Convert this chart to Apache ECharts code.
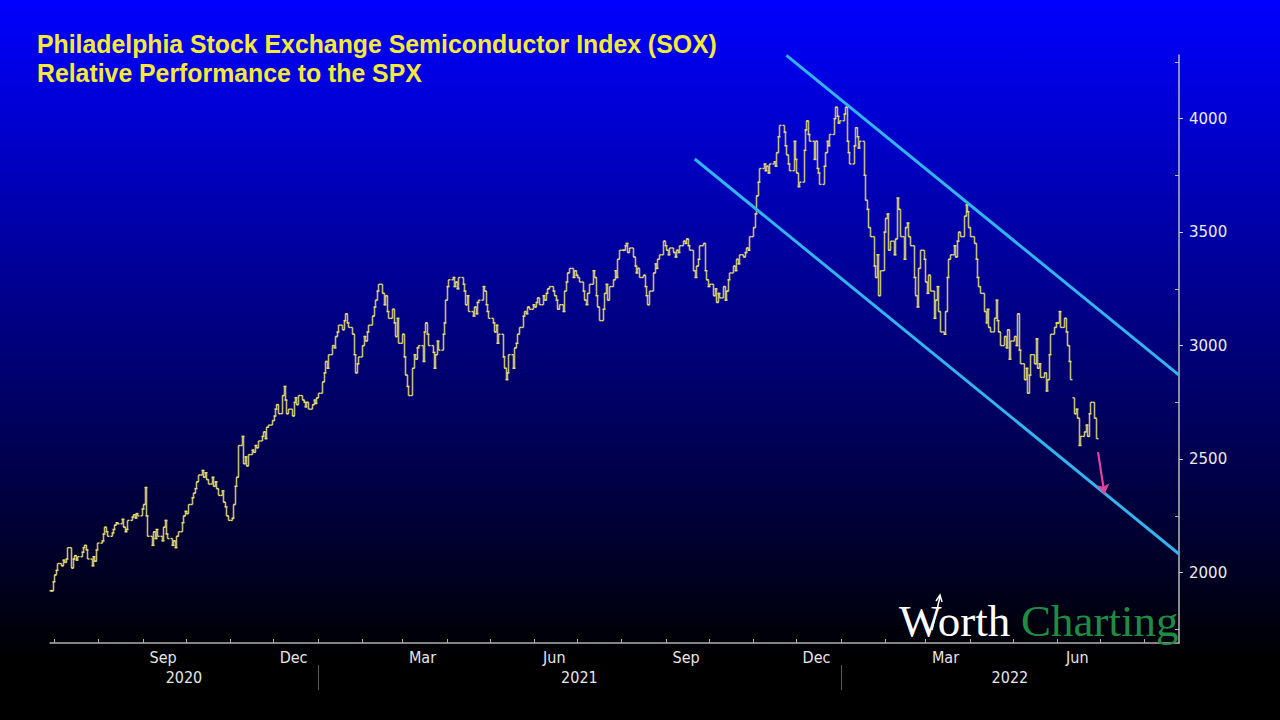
<!DOCTYPE html>
<html><head><meta charset="utf-8">
<script src="https://cdn.jsdelivr.net/npm/echarts@6/dist/echarts.min.js"></script>
<style>
html,body{margin:0;padding:0;background:#000;}
#c{width:1280px;height:720px;background:linear-gradient(to bottom,#0000ff 0%,#000000 92%);}
</style></head><body><div id="c"></div>
<script>
// ---------- data (daily closes, one value per weekday) ----------
const seriesStarts = ['2020-06-29', '2021-01-01', '2022-01-03'];
const closes2020 = [
  1920, 1960,
  1990, 2010, 2040, 2030, 2055, 2045, 2060, 2110, 2020, 2060, 2075, 2055, 2070, 2090, 2110, 2120, 2100, 2060, 2030, 2070, 2050, 2100, 2130,
  2140, 2170, 2200, 2180, 2160, 2175, 2190, 2210, 2220, 2215, 2235, 2200, 2180, 2190, 2230, 2245, 2255, 2240, 2260, 2250, 2280,
  2300, 2375, 2250, 2160, 2120, 2180, 2150, 2190, 2160, 2140, 2200, 2230, 2170, 2150, 2120, 2140, 2110, 2160, 2180, 2220, 2250, 2270,
  2260, 2300, 2330, 2350, 2370, 2400, 2430, 2450, 2420, 2440, 2410, 2390, 2420, 2380, 2400, 2370, 2340, 2360, 2310, 2290, 2250, 2230,
  2240, 2300, 2380, 2420, 2560, 2600, 2480, 2510, 2470, 2520, 2540, 2530, 2560, 2550, 2580, 2600, 2620, 2590, 2640, 2650, 2670,
  2690, 2720, 2740, 2700, 2780, 2820, 2760, 2700, 2720, 2690, 2750, 2770, 2740, 2780, 2760, 2750, 2730, 2750, 2720, 2740, 2760, 2745, 2770
];
const closes2021 = [
  2790, 2840, 2880, 2930, 2900, 2960, 3000, 2990, 3040, 3060, 3090, 3070, 3110, 3140, 3100, 3080, 3050, 2960, 2880, 2920, 2950,
  3000, 3040, 3020, 3060, 3090, 3130, 3170, 3200, 3240, 3270, 3230, 3180, 3220, 3150, 3120, 3160, 3100, 3040, 3120, 3010,
  3050, 2950, 2870, 2820, 2780, 2900, 2960, 2940, 2990, 3000, 2930, 3060, 3100, 3050, 3000, 2970, 2900, 2960, 3020, 2980, 3050, 3100, 3200,
  3260, 3290, 3300, 3260, 3280, 3250, 3300, 3270, 3240, 3180, 3220, 3150, 3130, 3170, 3140, 3190, 3200, 3260, 3240, 3180, 3150, 3120,
  3100, 3060, 3090, 3010, 3050, 2950, 2900, 2850, 2880, 2960, 2900, 2990, 3010, 3050, 3080, 3130, 3150, 3140, 3170, 3160, 3180,
  3170, 3190, 3210, 3180, 3220, 3200, 3230, 3250, 3260, 3240, 3220, 3200, 3160, 3180, 3150, 3240, 3280, 3320, 3340, 3300, 3330, 3310,
  3300, 3280, 3240, 3200, 3180, 3230, 3270, 3330, 3300, 3220, 3170, 3110, 3160, 3230, 3270, 3200, 3260, 3290, 3330, 3300, 3380, 3420,
  3420, 3440, 3450, 3410, 3430, 3390, 3350, 3320, 3340, 3300, 3310, 3260, 3220, 3180, 3240, 3320, 3360, 3340, 3380, 3400, 3460, 3440,
  3420, 3400, 3430, 3410, 3390, 3420, 3410, 3440, 3460, 3450, 3470, 3440, 3420, 3330, 3300, 3350, 3380, 3440, 3450, 3330, 3290, 3260,
  3270, 3220, 3250, 3190, 3230, 3210, 3260, 3200, 3240, 3290, 3320, 3350, 3330, 3380, 3360, 3400, 3390, 3410, 3430, 3420, 3480,
  3520, 3580, 3660, 3720, 3780, 3800, 3770, 3790, 3760, 3800, 3810, 3790, 3850, 3920, 3970, 3940, 3880, 3840, 3800, 3770, 3900, 3820,
  3760, 3700, 3720, 3860, 3950, 3990, 3930, 3900, 3820, 3900, 3780, 3760, 3710, 3790, 3850, 3900, 3880, 3930, 4000, 4050, 4010, 3980, 3990
];
const closes2022 = [
  4020, 4050, 3900, 3850, 3800, 3880, 3960, 3920, 3870, 3900, 3750, 3640, 3600, 3520, 3480, 3350, 3300, 3400, 3220, 3330, 3500,
  3560, 3580, 3420, 3460, 3400, 3470, 3650, 3600, 3480, 3380, 3520, 3540, 3480, 3440, 3300, 3220, 3170, 3340, 3420, 3380,
  3280, 3230, 3310, 3240, 3120, 3200, 3260, 3150, 3060, 3050, 3150, 3300, 3380, 3400, 3440, 3390, 3460, 3500, 3480, 3570, 3620, 3590, 3520,
  3480, 3450, 3380, 3300, 3260, 3230, 3150, 3100, 3160, 3080, 3060, 3120, 3200, 3110, 3060, 3000, 3040, 2990, 3070, 2940, 3020,
  3040, 3000, 3140, 2980, 2920, 2850, 2900, 2790, 2870, 2960, 2920, 3030, 2900, 2920, 2860, 2880, 2800, 2850, 2960, 3050, 3080, 3100,
  3100, 3150, 3080, 3120, 3060, 3000, 2930, 2850, 2700, 2720, 2680, 2560, 2600, 2620, 2650, 2600, 2700, 2750, 2680, 2590
];
const gapOpens = { '2022-06-13': 2770 };   // days that opened with a gap

// annotations
const channelUpper = [['2021-11-24', 4278], ['2022-08-25', 2870]];
const channelLower = [['2021-09-21', 3822], ['2022-08-25', 2082]];
const pinkArrow = [['2022-06-29T12:00:00', 2531], ['2022-07-04', 2346]];

// texts
const titleLines = ['Philadelphia Stock Exchange Semiconductor Index (SOX)', 'Relative Performance to the SPX'];

// axes
const xRange = ['2020-06-28', '2022-08-25'];
const yRange = [1690, 4280];
const yLabels = [2000, 2500, 3000, 3500, 4000];
const yMinorTicks = [1750, 2250, 2750, 3250, 3750, 4250];
const monthLabelDates = ['2020-09-15', '2020-12-15', '2021-03-15', '2021-06-15', '2021-09-15', '2021-12-15', '2022-03-15', '2022-06-15'];
const monthLabelTexts = ['Sep', 'Dec', 'Mar', 'Jun', 'Sep', 'Dec', 'Mar', 'Jun'];
const yearLabels = ['2020', '2021', '2022'];
const yearSeparators = ['2021-01-01', '2022-01-01'];

// ---------- build ----------
const d = s => Date.parse(s.length === 10 ? s + 'T00:00:00Z' : s + 'Z');
const DAY = 86400000;
const bars = [];
let prev = null;
[closes2020, closes2021, closes2022].forEach((arr, k) => {
  let t = d(seriesStarts[k]);
  arr.forEach(c => {
    while ([0, 6].includes(new Date(t).getUTCDay())) t += DAY;
    const key = new Date(t).toISOString().slice(0, 10);
    const o = gapOpens[key] !== undefined ? gapOpens[key] : (prev === null ? c : prev);
    bars.push([t, o, c]);
    prev = c;
    t += DAY;
  });
});

const X_MIN = d(xRange[0]), X_MAX = d(xRange[1]);
const monthTicks = [];
for (let y = 2020, m = 6; y < 2022 || m <= 7; ) {
  monthTicks.push(Date.UTC(y, m, 1));
  m++; if (m > 11) { m = 0; y++; }
}
const yearBounds = [X_MIN].concat(yearSeparators.map(d), [X_MAX]);
const yearLabelDates = yearLabels.map((_, i) => (yearBounds[i] + yearBounds[i + 1]) / 2);
const monthLabelTs = monthLabelDates.map(d);
const findLabel = (v, ts, texts) => {
  for (let i = 0; i < ts.length; i++) if (Math.abs(ts[i] - v) < DAY / 2) return texts[i];
  return '';
};

function renderBar(params, api) {
  const t = api.value(0);
  const po = api.coord([t, api.value(1)]);
  const pc = api.coord([t, api.value(2)]);
  const x = Math.round(po[0]) + 0.5;
  let y1 = po[1], y2 = pc[1];
  if (Math.abs(y1 - y2) < 2) { const m = (y1 + y2) / 2; y1 = m - 1; y2 = m + 1; }
  return {
    type: 'group',
    children: [
      { type: 'line', shape: { x1: x, y1: y1, x2: x, y2: y2 }, style: { stroke: '#c4bb78', lineWidth: 1.6 } },
      { type: 'line', shape: { x1: x - 2, y1: po[1], x2: x, y2: po[1] }, style: { stroke: '#efe168', lineWidth: 1.4 } },
      { type: 'line', shape: { x1: x, y1: pc[1], x2: x + 2, y2: pc[1] }, style: { stroke: '#efe168', lineWidth: 1.4 } }
    ]
  };
}

const toPts = arr => arr.map(p => [d(p[0]), p[1]]);
const axisFont = 'DejaVu Sans Condensed';
const titleFont = 'bold 26px "Liberation Sans", Arial, sans-serif';

const chart = echarts.init(document.getElementById('c'), null, { renderer: 'svg' });
chart.setOption({
  animation: false,
  backgroundColor: 'transparent',
  grid: { left: 50, right: 101, top: 55, bottom: 77, containLabel: false },
  xAxis: [
    {
      type: 'value', min: X_MIN, max: X_MAX, position: 'bottom', scale: true,
      axisLine: { show: true, lineStyle: { color: '#b0b0b0', width: 1.5 } },
      axisTick: { show: true, customValues: monthTicks, inside: true, length: 4, lineStyle: { color: '#b0b0b0' } },
      axisLabel: {
        show: true, customValues: monthLabelTs, margin: 6,
        color: '#e6e6e6', fontSize: 16, fontFamily: axisFont,
        formatter: v => findLabel(v, monthLabelTs, monthLabelTexts)
      },
      splitLine: { show: false }
    },
    {
      type: 'value', min: X_MIN, max: X_MAX, position: 'bottom', offset: 22, scale: true,
      axisLine: { show: false },
      axisTick: { show: true, customValues: yearSeparators.map(d), inside: false, length: 25, lineStyle: { color: '#5a5a5a' } },
      axisLabel: {
        show: true, customValues: yearLabelDates, margin: 4,
        color: '#e6e6e6', fontSize: 16, fontFamily: axisFont,
        formatter: v => findLabel(v, yearLabelDates, yearLabels)
      },
      splitLine: { show: false }
    }
  ],
  yAxis: [
    {
      type: 'value', position: 'right', min: yRange[0], max: yRange[1],
      axisLine: { show: true, lineStyle: { color: '#b8b8b8', width: 1.5 } },
      axisTick: { show: true, customValues: yLabels, inside: false, length: 4, lineStyle: { color: '#d0d0d0' } },
      axisLabel: { show: true, customValues: yLabels, margin: 10, color: '#ececec', fontSize: 15, fontFamily: 'DejaVu Sans', formatter: v => String(v) },
      splitLine: { show: false }
    },
    {
      type: 'value', position: 'right', min: yRange[0], max: yRange[1],
      axisLine: { show: false },
      axisTick: { show: true, customValues: yMinorTicks, inside: true, length: 4, lineStyle: { color: '#b8b8b8' } },
      axisLabel: { show: false },
      splitLine: { show: false }
    }
  ],
  series: [
    {
      type: 'custom', name: 'SOX/SPX', renderItem: renderBar,
      encode: { x: 0, y: [1, 2] }, data: bars, z: 2
    },
    {
      type: 'line', name: 'upper', data: toPts(channelUpper), showSymbol: false, symbol: 'none',
      lineStyle: { color: '#33b4ee', width: 3 }, z: 3, silent: true
    },
    {
      type: 'line', name: 'lower', data: toPts(channelLower), showSymbol: false, symbol: 'none',
      lineStyle: { color: '#33b4ee', width: 3 }, z: 3, silent: true,
      markLine: {
        silent: true, symbol: ['none', 'arrow'], symbolSize: 10,
        label: { show: false },
        lineStyle: { color: '#df459c', width: 2.2, type: 'solid' },
        data: [[{ coord: toPts(pinkArrow)[0] }, { coord: toPts(pinkArrow)[1] }]]
      }
    }
  ],
  graphic: [
    { type: 'text', x: 37, y: 44, scaleX: 0.955, z: 10, style: { text: titleLines[0], fill: '#f6ea38', font: titleFont, verticalAlign: 'middle' } },
    { type: 'text', x: 37, y: 73, scaleX: 0.955, z: 10, style: { text: titleLines[1], fill: '#f6ea38', font: titleFont, verticalAlign: 'middle' } },
    { type: 'text', x: 899, y: 621, z: 10, style: { text: 'Worth', fill: '#ffffff', font: '45px "Liberation Serif", serif', verticalAlign: 'middle' } },
    { type: 'text', x: 1021, y: 621, z: 10, style: { text: 'Charting', fill: '#1f8c45', font: '45px "Liberation Serif", serif', verticalAlign: 'middle' } },
    { type: 'polyline', z: 11, shape: { points: [[932, 630], [940, 597]] }, style: { stroke: '#ffffff', lineWidth: 1.5 } },
    { type: 'polyline', z: 11, shape: { points: [[936, 601], [940, 595], [942, 602]] }, style: { stroke: '#ffffff', lineWidth: 1.5, fill: null } }
  ]
});
</script></body></html>
